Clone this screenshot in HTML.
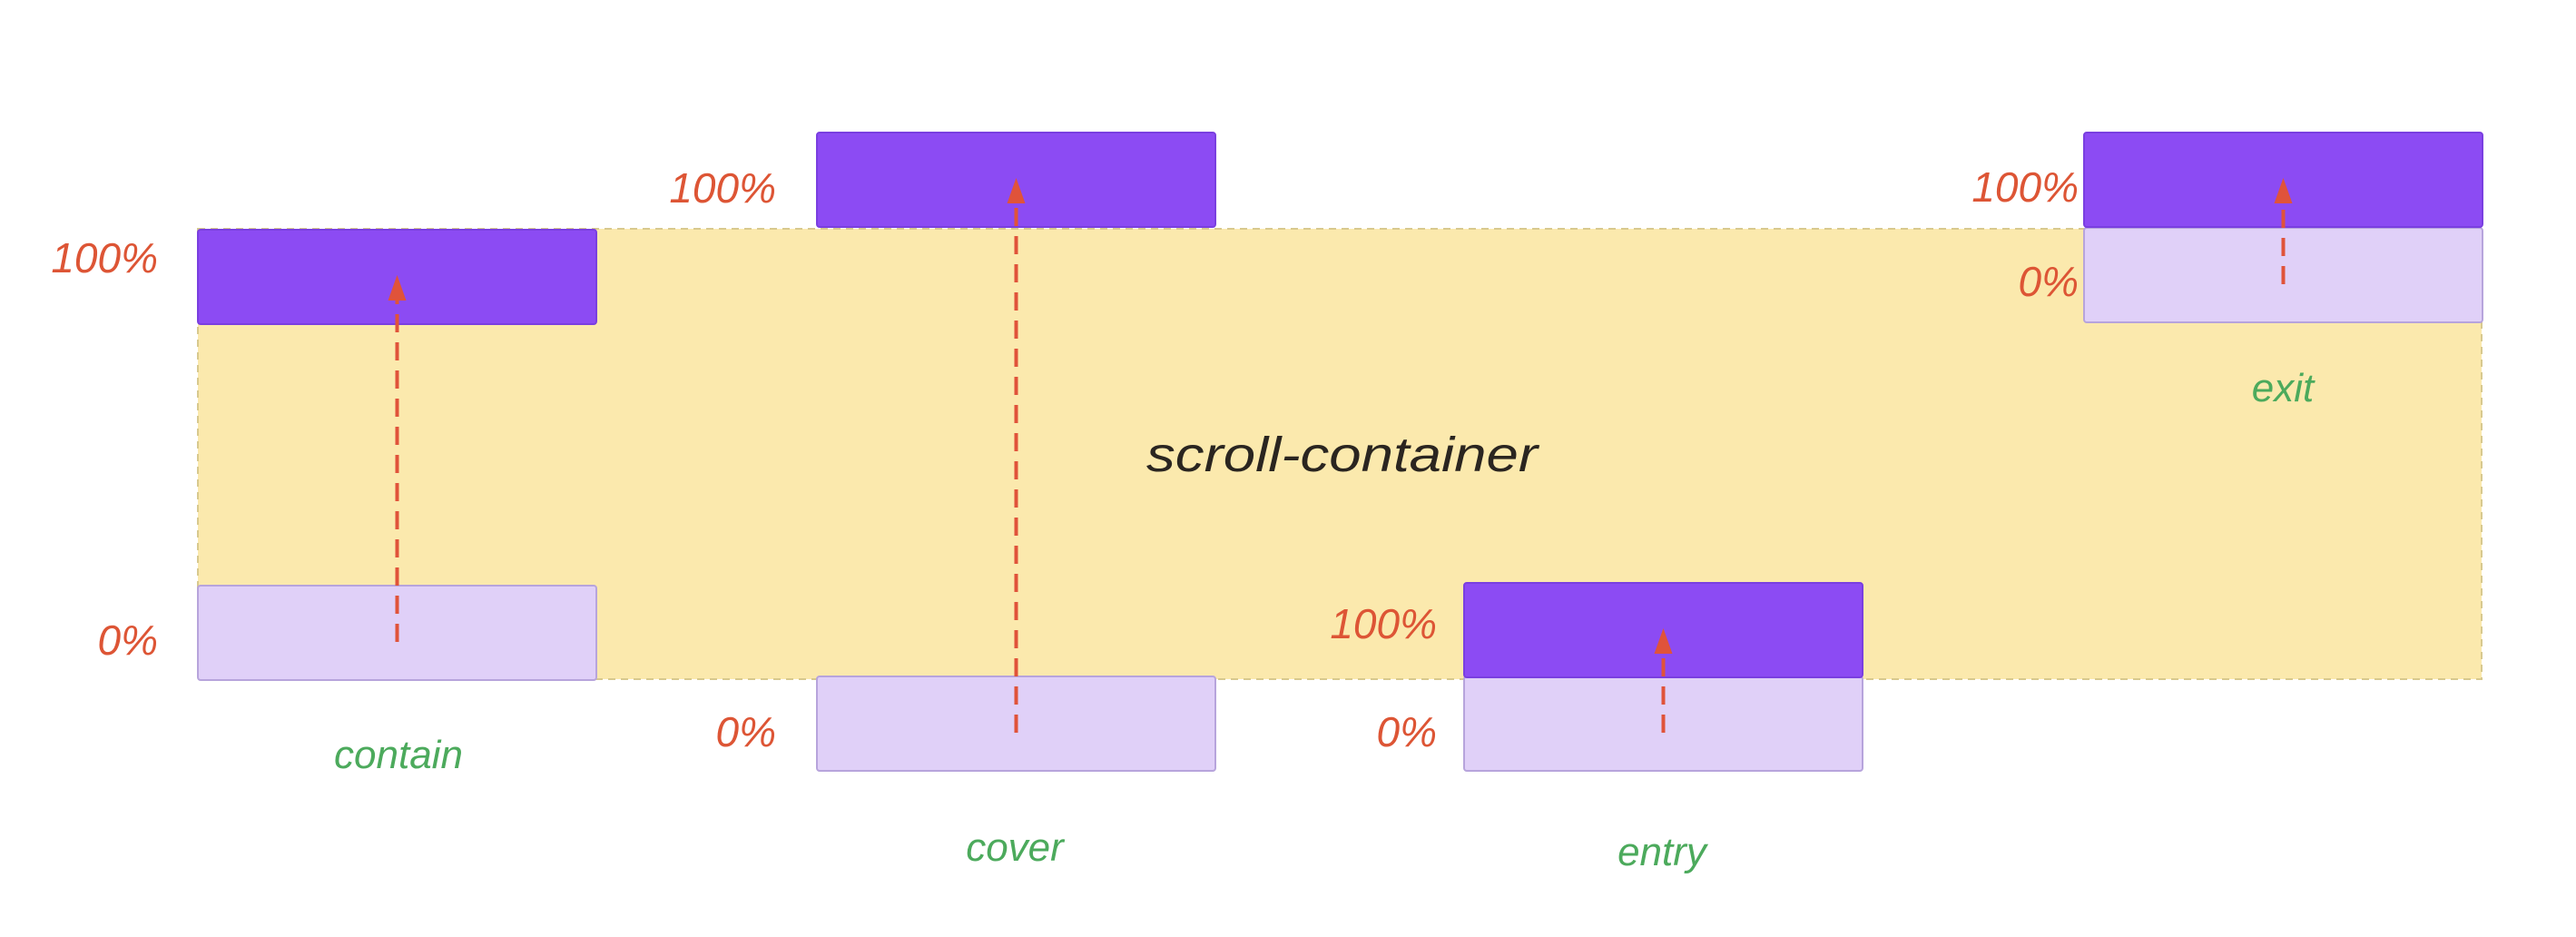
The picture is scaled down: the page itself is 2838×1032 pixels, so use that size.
<!DOCTYPE html>
<html><head><meta charset="utf-8"><style>
html,body{margin:0;padding:0;background:#fff;}
svg{display:block;}
text{font-family:"Liberation Sans",sans-serif;font-style:italic;}
</style></head><body>
<svg id="chart" width="2838" height="1032" viewBox="0 0 2838 1032" xmlns="http://www.w3.org/2000/svg">
<rect x="218" y="252" width="2516" height="496" fill="#fbe9ad" stroke="#d8c98e" stroke-width="2" stroke-dasharray="8 6"/>
<text x="1263" y="519" font-size="54" fill="#2a2520" textLength="431" lengthAdjust="spacingAndGlyphs">scroll-container</text>
<g id="marks"></g>
</svg>
<script>
const names = ["contain","cover","entry","exit"];
const boxX = [218, 900, 1613, 2296];
const startTop = [645, 745, 745, 251];   // 0% box top
const endTop = [253, 146, 642, 146];     // 100% box top
const labelRight = [174, 855, 1583, 2290];
const label0Y = [705, 806, 806, 310];
const label100Y = [284, 207, 687, 206];
const boxW = 439, boxH = 104;
const labelPos = [[439,832],[1118,934],[1831,939],[2515,428]];
const ns = "http://www.w3.org/2000/svg";
const g = document.getElementById('marks');
function mk(tag, attrs){const e=document.createElementNS(ns,tag);for(const k in attrs)e.setAttribute(k,attrs[k]);g.appendChild(e);return e;}
names.forEach((n,i)=>{
  const a = mk('rect',{x:boxX[i],y:startTop[i],width:boxW,height:boxH,rx:3,fill:'#e0d0f8',stroke:'#b7a4dc','stroke-width':2});
  
  
  const b = mk('rect',{x:boxX[i],y:endTop[i],width:boxW,height:boxH,rx:3,fill:'#8c4bf3',stroke:'#7a3fe0','stroke-width':2});
  
  
  const cx = boxX[i]+boxW/2;
  const y0 = startTop[i]+boxH/2+10, y1 = endTop[i]+boxH/2-2;
  const l = mk('line',{x1:cx,y1:y0,x2:cx,y2:y1+26,stroke:'#e0533a','stroke-width':4,'stroke-dasharray':'20 11'});
  
  
  const h = mk('polygon',{points:`${cx-10},${y1+28} ${cx+10},${y1+28} ${cx},${y1}`,fill:'#e0533a'});
  
  
  const t0 = mk('text',{x:labelRight[i],y:label0Y[i]+16,'font-size':46,fill:'#dd5535','text-anchor':'end'});
  t0.textContent='0%';
  
  
  const t1 = mk('text',{x:labelRight[i],y:label100Y[i]+16,'font-size':46,fill:'#dd5535','text-anchor':'end'});
  t1.textContent='100%';
  
  
  const tl = mk('text',{x:labelPos[i][0],y:labelPos[i][1]+14,'font-size':44,fill:'#4caa5c','text-anchor':'middle'});
  tl.textContent=n;
  
  
});
</script>
</body></html>
